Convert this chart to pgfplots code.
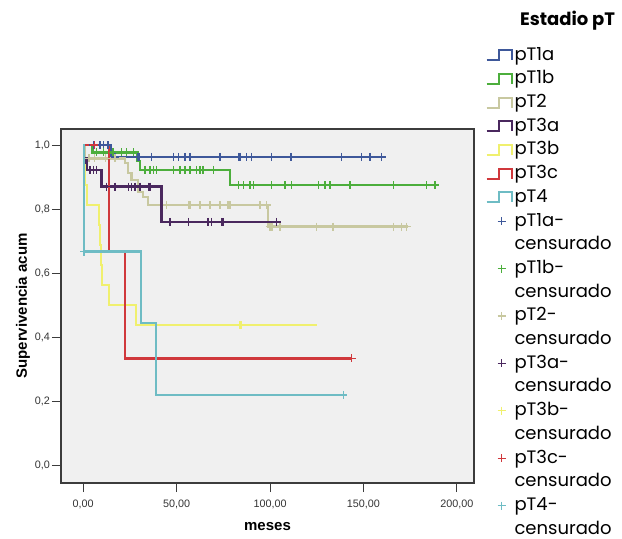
\documentclass[border=0pt]{standalone}
\usepackage{fontspec}
\setmainfont{Liberation Sans}
\newfontfamily\legendfont{Poppins}
\usepackage{pgfplots}
\pgfplotsset{compat=1.18}

\definecolor{bg}{RGB}{240,240,240}
\definecolor{framegray}{RGB}{60,60,60}
\definecolor{cA}{RGB}{62,88,154}
\definecolor{cB}{RGB}{76,174,60}
\definecolor{cC}{RGB}{200,200,160}
\definecolor{cD}{RGB}{74,40,94}
\definecolor{cE}{RGB}{240,240,110}
\definecolor{cF}{RGB}{208,56,60}
\definecolor{cG}{RGB}{110,188,196}

\pgfplotsset{
  km/.style={const plot, line width=1.2pt, color=#1,
    legend image code/.code={\draw[##1, line width=1pt] (0pt,-2.5pt) -- (6pt,-2.5pt) -- (6pt,2.5pt) -- (12.5pt,2.5pt) -- (12.5pt,-2.5pt);}},
  cens/.style={only marks, mark=+, mark size=2pt, color=#1, mark options={line width=0.7pt, draw=#1},
    legend image code/.code={\draw[mark repeat=2, mark phase=2, ##1, color=#1, mark options={draw=#1, line width=0.6pt}] plot coordinates {(1pt,0pt) (7.5pt,0pt) (13pt,0pt)};}},
}

\begin{document}
\begin{tikzpicture}
\useasboundingbox (-30.5pt,-27.5pt) rectangle (280.5pt,241.5pt);
\begin{axis}[
  at={(0pt,0pt)}, anchor=south west,
  scale only axis, width=206.5pt, height=177pt,
  xmin=-11.9, xmax=209.2, ymin=-0.056, ymax=1.05,
  clip mode=individual,
  axis background/.style={fill=bg},
  axis line style={draw=framegray, line width=0.6pt},
  xtick={0,50,100,150,200}, ytick={0,0.2,0.4,0.6,0.8,1},
  xtick pos=bottom, ytick pos=left,
  tick align=outside, major tick length=4.5pt,
  tick style={draw=framegray, line width=0.5pt},
  tick label style={font=\fontsize{5.4}{6}\selectfont, text=black!80},
  x tick label style={yshift=-0.5pt, /pgf/number format/fixed, /pgf/number format/fixed zerofill,
    /pgf/number format/precision=2, /pgf/number format/use comma,
    /pgf/number format/1000 sep={}, /pgf/number format/assume math mode=true},
  y tick label style={xshift=2.5pt, /pgf/number format/fixed, /pgf/number format/fixed zerofill,
    /pgf/number format/precision=1, /pgf/number format/use comma,
    /pgf/number format/assume math mode=true},
  xlabel={meses}, ylabel={Supervivencia acum},
  label style={font=\fontsize{7.5}{9}\selectfont\bfseries},
  x label style={at={(axis description cs:0.5,-0.124)}, anchor=center},
  y label style={at={(axis description cs:-0.092,0.5)}, anchor=center},
  legend cell align=left,
  legend style={at={(axis description cs:1.027,1.243)}, anchor=north west,
    draw=none, fill=none, inner sep=0pt, row sep=0pt,
    font=\fontsize{9}{12}\selectfont\legendfont,
    nodes={inner xsep=1pt, inner ysep=0pt, text height=8.4pt, text depth=3.45pt}},
]
% survival curves
\addplot[km=cA] coordinates {(0,1) (15,0.963) (160,0.963)};
\addlegendentry{pT1a}
\addplot[km=cB] coordinates {(0,1) (5,0.977) (29,0.95) (30.5,0.922) (78.5,0.875) (189,0.875)};
\addlegendentry{pT1b}
\addplot[km=cC] coordinates {(0,1) (1,0.958) (22.3,0.943) (24.1,0.912) (25.9,0.891) (29.4,0.854) (32.1,0.838) (34.8,0.8125) (99,0.745) (174,0.745)};
\addlegendentry{pT2}
\addplot[km=cD] coordinates {(0,1) (0.5,0.958) (1.8,0.922) (9.8,0.870) (42,0.760) (103.5,0.760)};
\addlegendentry{pT3a}
\addplot[km=cE] coordinates {(0,1) (0.5,0.9375) (1,0.875) (2,0.8125) (8.6,0.75) (9,0.6875) (9.5,0.625) (10,0.5625) (13.9,0.5) (28.2,0.4375) (125,0.4375)};
\addlegendentry{pT3b}
\addplot[km=cF] coordinates {(0,1) (13.9,0.667) (22.5,0.333) (143.7,0.333)};
\addlegendentry{pT3c}
\addplot[km=cG] coordinates {(0,1) (0.3,0.667) (30.9,0.443) (38.9,0.219) (139.2,0.219)};
\addlegendentry{pT4}
% censored
\addplot[cens=cA] coordinates {(5.4,1) (8.9,1) (10.7,1) (13.2,1) (17,0.963) (29.3,0.963) (30.2,0.963) (36.6,0.963) (48.2,0.963) (50.9,0.963) (54.5,0.963) (57.1,0.963) (73.2,0.963) (83,0.963) (83.9,0.963) (87.5,0.963) (90.1,0.963) (100.8,0.963) (111.2,0.963) (138.3,0.963) (149,0.963) (153.5,0.963) (159.7,0.963)};
\addlegendentry{pT1a-}
\addlegendimage{empty legend}\addlegendentry{censurado}
\addplot[cens=cB] coordinates {(7.2,0.977) (10.7,0.977) (16,0.977) (20.6,0.977) (23.2,0.977) (26.8,0.977) (33,0.922) (35.7,0.922) (37.5,0.922) (39.3,0.922) (48.2,0.922) (51.8,0.922) (54.5,0.922) (57.1,0.922) (60.7,0.922) (62.5,0.922) (64.2,0.922) (69.6,0.922) (83,0.875) (85.7,0.875) (89.2,0.875) (91,0.875) (100.9,0.875) (108,0.875) (111.6,0.875) (125.8,0.875) (129.4,0.875) (132.1,0.875) (142.8,0.875) (166,0.875) (183.8,0.875) (188.3,0.875)};
\addlegendentry{pT1b-}
\addlegendimage{empty legend}\addlegendentry{censurado}
\addplot[cens=cC] coordinates {(3,0.958) (6,0.958) (12,0.958) (17,0.958) (44.6,0.8125) (56.2,0.8125) (57.1,0.8125) (62.5,0.8125) (67.8,0.8125) (73.2,0.8125) (77.6,0.8125) (78.5,0.8125) (94.6,0.8125) (98.2,0.8125) (99.9,0.745) (101,0.745) (105.3,0.745) (124.9,0.745) (133.8,0.745) (166,0.745) (170.4,0.745) (173.1,0.745)};
\addlegendentry{pT2-}
\addlegendimage{empty legend}\addlegendentry{censurado}
\addplot[cens=cD] coordinates {(3.6,0.922) (5.4,0.922) (7.2,0.922) (12.5,0.870) (17,0.870) (24.1,0.870) (25.9,0.870) (27.7,0.870) (30.4,0.870) (34.8,0.870) (35.7,0.870) (46.4,0.760) (56.2,0.760) (66.9,0.760) (68.7,0.760) (74.1,0.760) (74.9,0.760) (103.5,0.760)};
\addlegendentry{pT3a-}
\addlegendimage{empty legend}\addlegendentry{censurado}
\addplot[cens=cE] coordinates {(83.5,0.4375) (84.5,0.4375)};
\addlegendentry{pT3b-}
\addlegendimage{empty legend}\addlegendentry{censurado}
\addplot[cens=cF] coordinates {(6,1) (143.7,0.333)};
\addlegendentry{pT3c-}
\addlegendimage{empty legend}\addlegendentry{censurado}
\addplot[cens=cG] coordinates {(0.5,0.667) (139.2,0.219)};
\addlegendentry{pT4-}
\addlegendimage{empty legend}\addlegendentry{censurado}

\node[anchor=base west, font=\fontsize{9}{12}\selectfont\legendfont\bfseries]
  at (axis description cs:1.0944,1.2938) {Estadio pT};
\end{axis}
\end{tikzpicture}
\end{document}
